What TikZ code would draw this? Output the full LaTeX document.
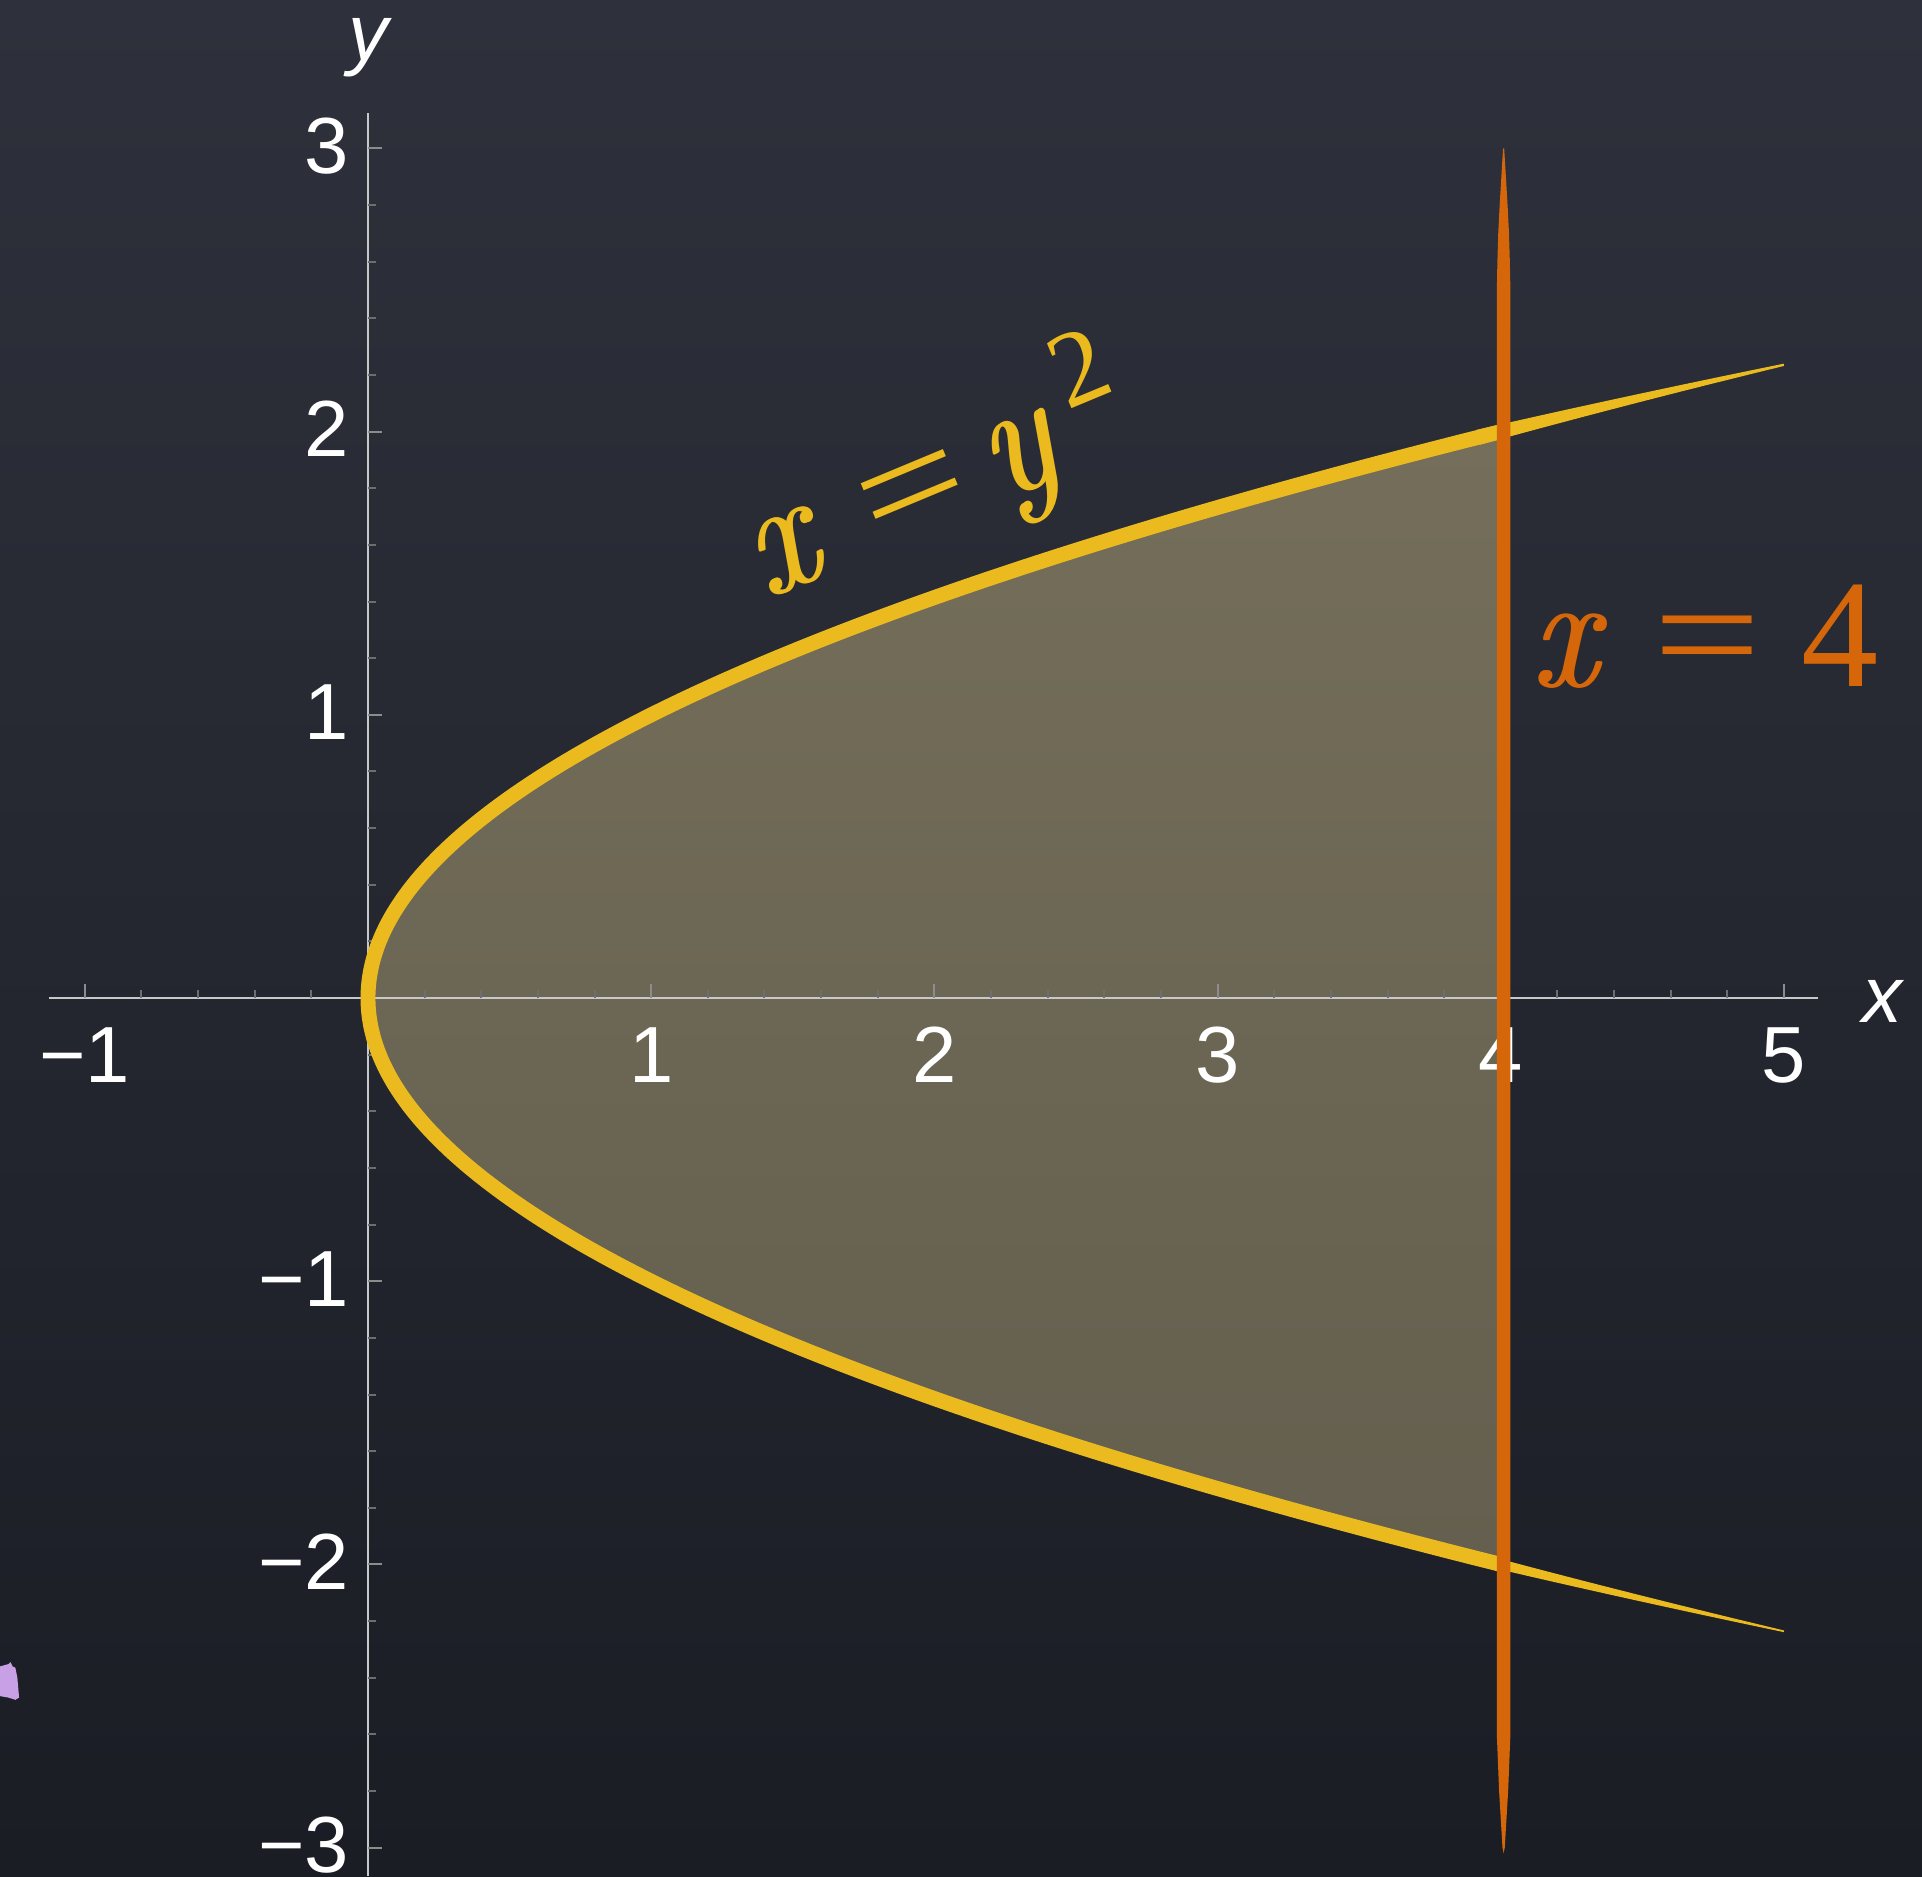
\documentclass[tikz,border=0pt]{standalone}
\usepackage{fontspec}
\usepackage{graphicx}
\newfontfamily\lsans{Liberation Sans}
\newfontfamily\lserif{Liberation Serif}
\definecolor{bgtop}{RGB}{46,49,59}
\definecolor{bgbot}{RGB}{27,29,37}
\definecolor{regtop}{RGB}{116,110,90}
\definecolor{regbot}{RGB}{100,95,78}
\definecolor{parab}{RGB}{234,186,30}
\definecolor{vline}{RGB}{213,103,10}
\definecolor{axisc}{RGB}{200,200,200}
\definecolor{tickc}{RGB}{140,140,140}
\definecolor{mtickc}{RGB}{110,110,110}
\definecolor{lilac}{RGB}{200,160,230}
\newcommand{\eqsign}{\scalebox{1.24}[1]{=}}
\newcommand{\fbold}[1]{\rlap{#1}\kern0.2pt\rlap{#1}\kern0.2pt#1}
\newcommand{\ivar}[1]{{\rmfamily\itshape\fontsize{16.5}{16.5}\selectfont\scalebox{0.88}[1]{\fbold{#1}}}}
\begin{document}
\begin{tikzpicture}[x=1cm,y=1cm,
  ticklab/.style={font=\lsans\fontsize{8}{8}\selectfont, text=white, inner sep=0pt},
  axlab/.style={font=\lsans\itshape\fontsize{8}{8}\selectfont, text=white, inner sep=0pt},
  eqlab/.style={font=\lserif\fontsize{15.5}{15.5}\selectfont, inner sep=0pt},
  axisline/.style={draw=axisc, line width=0.2pt},
  majtick/.style={draw=tickc, line width=0.2pt},
  mintick/.style={draw=mtickc, line width=0.2pt}]
\useasboundingbox (-1.2994,-3.1003) rectangle (5.4873,3.5240);
\shade[top color=bgtop, bottom color=bgbot] (-1.2994,-3.1003) rectangle (5.4873,3.5240);
% shaded region
\shade[top color=regtop, bottom color=regbot] plot[domain=-2:2, samples=80, smooth] ({\x*\x},\x) -- cycle;
% axes
\coordinate (xa0) at (-1.126,0);
\coordinate (xa1) at (5.12,0);
\coordinate (ya0) at (0,-3.1003);
\coordinate (ya1) at (0,3.125);
\draw[axisline] (xa0) -- (xa1);
\draw[axisline] (ya0) -- (ya1);
\foreach \k in {-1,1,2,3,4,5} \draw[majtick] (\k,0) -- (\k,0.049);
\foreach \i in {-5,...,25}{\ifnum\numexpr\i-5*(\i/5)\relax=0 \else \draw[mintick] (\i/5,0) -- (\i/5,0.028);\fi}
\foreach \k in {-3,-2,-1,1,2,3} \draw[majtick] (0,\k) -- (0.049,\k);
\foreach \i in {-15,...,15}{\ifnum\numexpr\i-5*(\i/5)\relax=0 \else \draw[mintick] (0,\i/5) -- (0.028,\i/5);\fi}
% tick labels
\node[ticklab, anchor=base] (xlm1) at (-1,-0.297) {−1};
\node[ticklab, anchor=base] (xl1) at (1,-0.297) {1};
\node[ticklab, anchor=base] (xl2) at (2,-0.297) {2};
\node[ticklab, anchor=base] (xl3) at (3,-0.297) {3};
\node[ticklab, anchor=base] (xl4) at (4,-0.297) {4};
\node[ticklab, anchor=base] (xl5) at (5,-0.297) {5};
\node[ticklab, anchor=base east] (yl3) at (-0.06,3-0.088) {3};
\node[ticklab, anchor=base east] (yl2) at (-0.06,2-0.088) {2};
\node[ticklab, anchor=base east] (yl1) at (-0.06,1-0.088) {1};
\node[ticklab, anchor=base east] (ylm1) at (-0.06,-1-0.088) {−1};
\node[ticklab, anchor=base east] (ylm2) at (-0.06,-2-0.088) {−2};
\node[ticklab, anchor=base east] (ylm3) at (-0.06,-3-0.088) {−3};
\node[axlab, anchor=base] (xlab) at (5.346,-0.085) {x};
\node[axlab, anchor=base] (ylab) at (0,3.309) {y};
% parabola: main body
\draw[parab, line width=1.5pt, line cap=butt] plot[domain=-2:2, samples=100, smooth] ({\x*\x},\x);
% tapering tails
\fill[parab] plot[domain=1.98:2.236, samples=20] ({\x*\x-(0.004+0.021*(2.236-\x)/0.236)/sqrt(1+4*\x*\x)}, {\x+(0.004+0.021*(2.236-\x)/0.236)*2*\x/sqrt(1+4*\x*\x)})
  -- plot[domain=2.236:1.98, samples=20] ({\x*\x+(0.004+0.021*(2.236-\x)/0.236)/sqrt(1+4*\x*\x)}, {\x-(0.004+0.021*(2.236-\x)/0.236)*2*\x/sqrt(1+4*\x*\x)}) -- cycle;
\fill[parab] plot[domain=-1.98:-2.236, samples=20] ({\x*\x-(0.003+0.015*(2.236+\x)/0.236)/sqrt(1+4*\x*\x)}, {\x+(0.003+0.015*(2.236+\x)/0.236)*2*\x/sqrt(1+4*\x*\x)})
  -- plot[domain=-2.236:-1.98, samples=20] ({\x*\x+(0.003+0.015*(2.236+\x)/0.236)/sqrt(1+4*\x*\x)}, {\x-(0.003+0.015*(2.236+\x)/0.236)*2*\x/sqrt(1+4*\x*\x)}) -- cycle;
% vertical line x = 4
\fill[vline] (4.008,3.0) -- (4.002,2.9) -- (3.996,2.8) -- (3.991,2.7) -- (3.988,2.6) -- (3.986,2.5)
  -- (3.986,-2.6) -- (3.99,-2.7) -- (3.994,-2.8) -- (4.0,-2.9) -- (4.006,-3.0) -- (4.01,-3.02)
  -- (4.014,-3.0) -- (4.02,-2.9) -- (4.026,-2.8) -- (4.03,-2.7) -- (4.034,-2.6) -- (4.034,2.5)
  -- (4.032,2.6) -- (4.029,2.7) -- (4.024,2.8) -- (4.018,2.9) -- (4.012,3.0) -- cycle;
% labels
\node[eqlab, text=parab, anchor=base west, rotate=22.6] (eq1) at (1.40,1.404)
  {\ivar{x}\hspace{0.35em}\eqsign\hspace{0.15em}\ivar{y}\kern0.16em\raisebox{0.38em}{\fontsize{10.85}{10.85}\selectfont 2}};
\node[eqlab, text=vline, anchor=base west] (eq2) at (4.10,1.10)
  {\ivar{x}\hspace{0.35em}\eqsign\hspace{0.26em}4};
% lilac smudge
\fill[lilac] (-1.2994,-2.36) -- (-1.27,-2.352) -- (-1.262,-2.345) -- (-1.255,-2.36) -- (-1.245,-2.365)
  -- (-1.238,-2.40) -- (-1.232,-2.47) -- (-1.245,-2.478) -- (-1.27,-2.47) -- (-1.2994,-2.465) -- cycle;
\end{tikzpicture}
\end{document}
